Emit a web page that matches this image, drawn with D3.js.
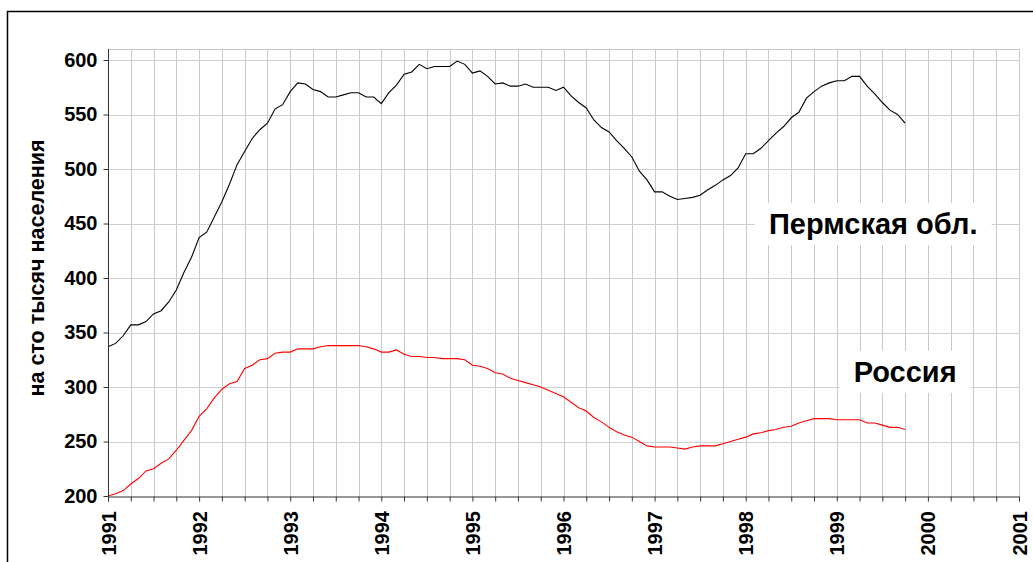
<!DOCTYPE html>
<html>
<head>
<meta charset="utf-8">
<script src="https://cdn.jsdelivr.net/npm/d3@7"></script>
<style>
  body { margin: 0; background: #fff; }
  text { font-family: "Liberation Sans", Arial, sans-serif; font-weight: bold; }
</style>
</head>
<body>
<svg id="chart"></svg>
<script>
// Chart size and plot box
const width = 1033;
const height = 562;
const margin = { left: 108, right: 14, top: 49, bottom: 66 };

// Monthly values, Jan 1991 .. Oct 1999 (per 100 000 population)
const startYear = 1991;
const permValues = [
  337, 340, 347, 357, 357, 360, 367, 370, 378, 389, 405, 419,
  437, 442, 456, 470, 486, 504, 516, 528, 536, 542, 555, 559,
  571, 579, 578, 573, 571, 566, 566, 568, 570, 570, 566, 566,
  560, 570, 577, 587, 589, 596, 592, 594, 594, 594, 599, 596,
  588, 590, 585, 578, 579, 576, 576, 578, 575, 575, 575, 572,
  575, 567, 561, 556, 545, 538, 534, 526, 519, 511, 498, 490,
  479, 479, 475, 472, 473, 474, 476, 481, 485, 490, 494, 501,
  514, 514, 519, 526, 533, 539, 547, 552, 565, 571, 576, 579,
  581, 581, 585, 585, 576, 569, 561, 554, 550, 542
];
const russiaValues = [
  200, 202, 205, 211, 216, 223, 225, 230, 234, 242, 251, 260,
  273, 280, 290, 298, 303, 305, 317, 320, 325, 326, 331, 332,
  332, 335, 335, 335, 337, 338, 338, 338, 338, 338, 337, 335,
  332, 332, 334, 330, 328, 328, 327, 327, 326, 326, 326, 325,
  320, 319, 317, 313, 312, 308, 306, 304, 302, 300, 297, 294,
  291, 286, 281, 278, 272, 268, 263, 259, 256, 254, 250, 246,
  245, 245, 245, 244, 243, 245, 246, 246, 246, 248, 250, 252,
  254, 257, 258, 260, 261, 263, 264, 267, 269, 271, 271, 271,
  270, 270, 270, 270, 267, 267, 265, 263, 263, 261
];
const yTicks = [200, 250, 300, 350, 400, 450, 500, 550, 600];
const yearTicks = [1991, 1992, 1993, 1994, 1995, 1996, 1997, 1998, 1999, 2000, 2001];
const yTitle = "на сто тысяч населения";
const seriesNames = ["Пермская обл.", "Россия"];

const svg = d3.select("#chart").attr("width", width).attr("height", height);

// Outer frame
svg.append("rect")
  .attr("x", 7.5).attr("y", 11.5)
  .attr("width", width + 10).attr("height", height + 10)
  .attr("fill", "#fff").attr("stroke", "#000").attr("stroke-width", 1.5);

const x = d3.scaleLinear().domain([1991, 2001]).range([margin.left, width - margin.right]);
const y = d3.scaleLinear().domain([200, 600]).range([height - margin.bottom, 60]);

const plotTop = margin.top;
const plotBottom = y(200);

// Gridlines
const quarters = d3.range(1991, 2001.001, 0.25);
svg.append("g")
  .selectAll("line")
  .data(quarters.slice(1))
  .enter()
  .append("line")
  .attr("x1", (d) => Math.round(x(d)) + 0.5)
  .attr("x2", (d) => Math.round(x(d)) + 0.5)
  .attr("y1", plotTop)
  .attr("y2", plotBottom)
  .attr("stroke", "#c8c8c8");

svg.append("g")
  .selectAll("line")
  .data(yTicks.slice(1))
  .enter()
  .append("line")
  .attr("x1", x(1991))
  .attr("x2", x(2001))
  .attr("y1", (d) => Math.round(y(d)) + 0.5)
  .attr("y2", (d) => Math.round(y(d)) + 0.5)
  .attr("stroke", "#d0d0d0");

// plot top border
svg.append("line")
  .attr("x1", x(1991)).attr("x2", x(2001))
  .attr("y1", plotTop + 0.5).attr("y2", plotTop + 0.5)
  .attr("stroke", "#c8c8c8");

// Series lines
const line = d3.line()
  .x((d, i) => x(startYear + i / 12))
  .y((d) => y(d));

svg.append("path")
  .datum(permValues)
  .attr("d", line)
  .attr("fill", "none")
  .attr("stroke", "#000")
  .attr("stroke-width", 1.1);

svg.append("path")
  .datum(russiaValues)
  .attr("d", line)
  .attr("fill", "none")
  .attr("stroke", "#ff0000")
  .attr("stroke-width", 1.1);

// Y axis
const yAxis = svg.append("g")
  .attr("transform", `translate(${x(1991) + 0.5},0)`)
  .call(d3.axisLeft(y).tickValues(yTicks).tickSize(5).tickPadding(6));
yAxis.select(".domain").attr("d", `M0,${plotTop}V${plotBottom}`).attr("stroke", "#333");
yAxis.selectAll(".tick line").attr("stroke", "#333");
yAxis.selectAll("text")
  .style("font-size", "20px")
  .attr("fill", "#000");

// X axis
const xAxis = svg.append("g")
  .attr("transform", `translate(0,${plotBottom + 0.5})`)
  .call(d3.axisBottom(x).tickValues(quarters).tickSize(5).tickFormat(() => ""));
xAxis.select(".domain").attr("stroke", "#333");
xAxis.selectAll(".tick line").attr("stroke", "#333");

svg.append("g")
  .selectAll("text")
  .data(yearTicks)
  .enter()
  .append("text")
  .attr("transform", (d) => `translate(${x(d) + 7.5},${plotBottom + 15}) rotate(-90)`)
  .attr("text-anchor", "end")
  .style("font-size", "20px")
  .text((d) => d);

// Y title
svg.append("text")
  .attr("transform", `translate(${44},${268}) rotate(-90)`)
  .attr("text-anchor", "middle")
  .style("font-size", "21.5px")
  .text(yTitle);

// Series labels with white boxes
const labels = [
  { name: seriesNames[0], cx: x(1999.4), cy: y(449.5) },
  { name: seriesNames[1], cx: x(1999.75), cy: y(314) }
];
labels.forEach((l) => {
  const g = svg.append("g");
  const t = g.append("text")
    .attr("x", l.cx)
    .attr("y", l.cy)
    .attr("text-anchor", "middle")
    .attr("dy", "0.36em")
    .style("font-size", "29px")
    .text(l.name);
  const b = t.node().getBBox();
  g.insert("rect", "text")
    .attr("x", b.x - 14)
    .attr("y", l.cy - 21)
    .attr("width", b.width + 28)
    .attr("height", 42)
    .attr("fill", "#fff");
});
</script>
</body>
</html>
